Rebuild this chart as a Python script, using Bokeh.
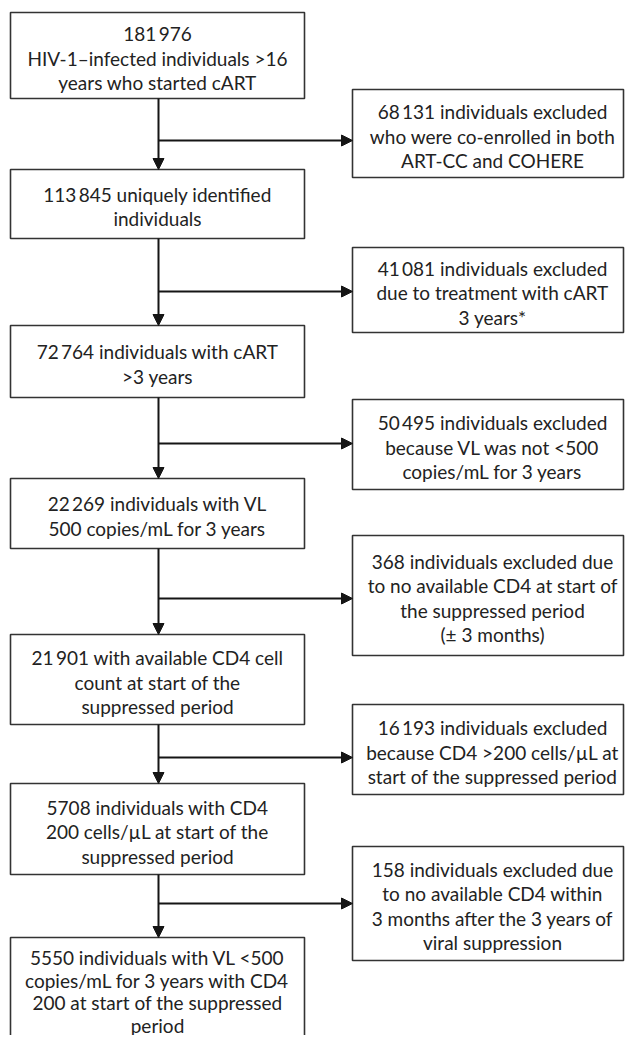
from bokeh.plotting import figure
from bokeh.models import Range1d, ColumnDataSource, Arrow, NormalHead
from bokeh.core.properties import value
from bokeh.embed import file_html
from bokeh.resources import INLINE

# ---- content (texts of the flow chart) ----
main_steps = [
    ["181\u2009976", "HIV-1\u2013infected individuals >16", "years who started cART"],
    ["113\u2009845 uniquely identified", "individuals"],
    ["72\u2009764 individuals with cART", ">3 years"],
    ["22\u2009269 individuals with VL", "500 copies/mL for 3 years"],
    ["21\u2009901 with available CD4 cell", "count at start of the", "suppressed period"],
    ["5708 individuals with CD4", "200 cells/\u00b5L at start of the", "suppressed period"],
    ["5550 individuals with VL <500", "copies/mL for 3 years with CD4",
     "200 at start of the suppressed", "period"],
]
exclusions = [
    ["68\u2009131 individuals excluded", "who were co-enrolled in both", "ART-CC and COHERE"],
    ["41\u2009081 individuals excluded", "due to treatment with cART", "3 years*"],
    ["50\u2009495 individuals excluded", "because VL was not <500", "copies/mL for 3 years"],
    ["368 individuals excluded due", "to no available CD4 at start of",
     "the suppressed period", "(\u00b1 3 months)"],
    ["16\u2009193 individuals excluded", "because CD4 >200 cells/\u00b5L at",
     "start of the suppressed period"],
    ["158 individuals excluded due", "to no available CD4 within",
     "3 months after the 3 years of", "viral suppression"],
]

# ---- layout (picture pixel coordinates, y downward) ----
main_top = [12, 169, 325, 478, 634, 783, 937]
main_bot = [98, 238, 397, 548, 724, 874, 1060]
excl_top = [89, 247, 399, 535, 704, 846]
excl_bot = [177, 332, 489, 655, 794, 960]
branch_y = [140, 291, 443, 598, 757, 903]
L_LEFT, L_RIGHT = 10, 304
R_LEFT, R_RIGHT = 352, 623
R_TEXT_X = 492
X_TRUNK = 158
LINE_H = 24.5
TEXT_DY = 2.5
LAST_FIRST_LINE = 957
LAST_LINE_H = 22.5

p = figure(width=625, height=1035, output_backend="svg", toolbar_location=None,
           x_range=Range1d(0, 625), y_range=Range1d(1035, 0),
           x_axis_location=None, y_axis_location=None,
           min_border=0, min_border_left=0, min_border_right=0,
           min_border_top=0, min_border_bottom=0)
p.outline_line_color = None
p.grid.visible = False
p.background_fill_color = "white"
p.border_fill_color = "white"

BOX_COL = "#333333"
TXT_COL = "#222222"
ARR_COL = "#151515"

# boxes
p.quad(left=[L_LEFT] * len(main_top), right=[L_RIGHT] * len(main_top),
       top=main_top, bottom=main_bot, fill_color="white",
       line_color=BOX_COL, line_width=1.6)
p.quad(left=[R_LEFT] * len(excl_top), right=[R_RIGHT] * len(excl_top),
       top=excl_top, bottom=excl_bot, fill_color="white",
       line_color=BOX_COL, line_width=1.6)

# arrows: vertical between main boxes, horizontal to exclusion boxes
v_src = ColumnDataSource(dict(x0=[X_TRUNK] * 6, y0=main_bot[:-1],
                              x1=[X_TRUNK] * 6, y1=main_top[1:]))
h_src = ColumnDataSource(dict(x0=[X_TRUNK] * 6, y0=branch_y,
                              x1=[R_LEFT] * 6, y1=branch_y))
for src in (v_src, h_src):
    p.add_layout(Arrow(end=NormalHead(size=11, fill_color=ARR_COL, line_color=ARR_COL,
                                      line_width=1),
                       x_start="x0", y_start="y0", x_end="x1", y_end="y1",
                       source=src, line_color=ARR_COL, line_width=2))

# texts
tx, ty, tt = [], [], []
for k, (lines, t, b) in enumerate(zip(main_steps, main_top, main_bot)):
    n = len(lines)
    for i, s in enumerate(lines):
        tx.append((L_LEFT + L_RIGHT) / 2)
        if k == len(main_steps) - 1:
            ty.append(LAST_FIRST_LINE + i * LAST_LINE_H)
        else:
            ty.append((t + b) / 2 + TEXT_DY + (i - (n - 1) / 2) * LINE_H)
        tt.append(s)
for lines, t, b in zip(exclusions, excl_top, excl_bot):
    n = len(lines)
    for i, s in enumerate(lines):
        tx.append(R_TEXT_X)
        ty.append((t + b) / 2 + TEXT_DY + (i - (n - 1) / 2) * LINE_H)
        tt.append(s)

p.text(x=tx, y=ty, text=tt, text_align="center", text_baseline="middle",
       text_font=value("Lato"), text_font_size="19px", text_color=TXT_COL)

open("out.html", "w").write(file_html(p, INLINE))
